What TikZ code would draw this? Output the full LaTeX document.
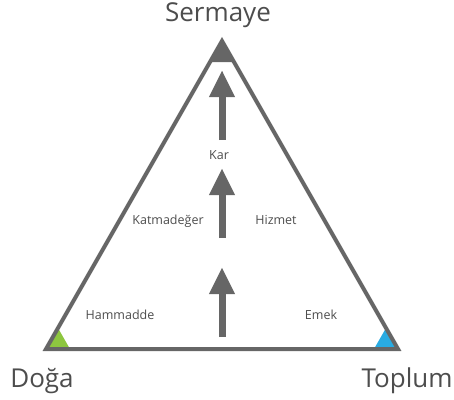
\documentclass[tikz,border=0pt]{standalone}
\usepackage{fontspec}
\setmainfont{Open Sans}
\usepackage{tikz}
\usetikzlibrary{arrows.meta}
\definecolor{linegray}{HTML}{666666}
\definecolor{textgray}{HTML}{4D4D4D}
\definecolor{dogagreen}{HTML}{8DC63F}
\definecolor{toplumblue}{HTML}{29ABE2}
\tikzset{
    %Define style for corner labels
    corner/.style={
           inner sep=0pt,
           anchor=base,
           text=textgray,
           font=\fontsize{26}{30}\selectfont},
    %Define style for labels inside the triangle
    midlabel/.style={
           inner sep=0pt,
           anchor=base,
           text=textgray,
           font=\fontsize{12.5}{15}\selectfont},
    % Define arrow style
    flow/.style={
           -{Triangle[width=24pt,length=27pt]},
           line width=7pt,
           draw=linegray}
}
\begin{document}
\begin{tikzpicture}[x=1pt,y=-1pt]
\useasboundingbox (0,0) rectangle (454,399);

 %corners
\coordinate (S) at (222,41);
\coordinate (D) at (46,349);
\coordinate (T) at (398,349);

 %corner marks
\fill[linegray] (S) -- (210,62) -- (234,62) -- cycle;
\fill[dogagreen] (D) -- ++(24,0) -- ++(-12,-21) -- cycle;
\fill[toplumblue] (T) -- ++(-24,0) -- ++(12,-21) -- cycle;

 %triangle
\draw[linegray, line width=4pt] (D) -- (T) -- (S) -- cycle;

 %arrows
\foreach \i/\s/\e in {1/337/267, 2/238/168, 3/140/70}{
  \coordinate (a\i) at (222,\s);
  \coordinate (b\i) at (222,\e);
  \draw[flow] (a\i) -- (b\i);
}

 %labels
\node[corner] (sermaye) at (218,21) {Sermaye};
\node[corner] (doga) at (42,387) {Doğa};
\node[corner] (toplum) at (407,387) {Toplum};
\node[midlabel] (kar) at (219,159) {Kar};
\node[midlabel] (katmadeger) at (168,224) {Katmadeğer};
\node[midlabel] (hizmet) at (276,224) {Hizmet};
\node[midlabel] (hammadde) at (120,319) {Hammadde};
\node[midlabel] (emek) at (321,319) {Emek};

\end{tikzpicture}
\end{document}
